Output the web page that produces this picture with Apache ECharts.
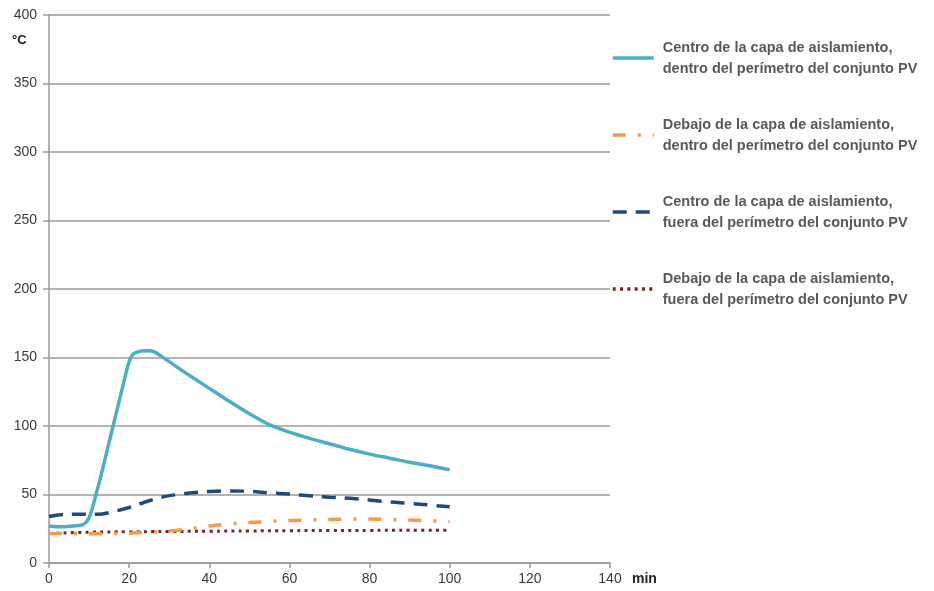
<!DOCTYPE html>
<html>
<head>
<meta charset="utf-8">
<script src="https://cdn.jsdelivr.net/npm/echarts@6/dist/echarts.min.js"></script>
<style>
  html, body { margin: 0; padding: 0; background: #ffffff; }
  #chart { width: 934px; height: 591px; }
</style>
</head>
<body>
<div id="chart"></div>
<script>
// Temperature (°C) over time (min) at four measurement points
const seriesNames = [
  'Centro de la capa de aislamiento,\ndentro del perímetro del conjunto PV',
  'Debajo de la capa de aislamiento,\ndentro del perímetro del conjunto PV',
  'Centro de la capa de aislamiento,\nfuera del perímetro del conjunto PV',
  'Debajo de la capa de aislamiento,\nfuera del perímetro del conjunto PV'
];

const centroDentroT = [0, 2, 4, 6, 8, 9, 10, 11, 12, 13, 14, 15, 16, 17, 18, 19, 20, 21, 22, 23, 25, 26, 27, 28, 30, 35, 40, 45, 50, 55, 60, 65, 70, 75, 80, 85, 90, 95, 100];
const centroDentroV = [27, 26.5, 26.5, 27, 27.5, 29, 33, 42, 53, 64, 76, 88, 100, 112, 124, 136, 147, 152.5, 154, 154.8, 155, 154.5, 153, 151, 147, 137, 127.5, 118, 109, 101, 95.5, 91, 87, 83, 79.5, 76.5, 73.5, 71, 68];

const debajoDentroT = [0, 5, 10, 15, 20, 25, 30, 35, 40, 45, 50, 55, 60, 65, 70, 75, 80, 85, 90, 95, 100];
const debajoDentroV = [21.5, 21.5, 21.3, 21.5, 21.8, 22.5, 23.3, 25, 27, 28.5, 29.5, 30.3, 31, 31.4, 31.8, 32.1, 32.2, 31.8, 31.3, 30.8, 30.3];

const centroFueraT = [0, 4, 8, 12, 16, 20, 24, 28, 32, 36, 40, 45, 50, 55, 60, 65, 70, 75, 80, 85, 90, 95, 100];
const centroFueraV = [34, 35.5, 35.5, 35.5, 37.5, 40.5, 44.5, 48, 50, 51.3, 52.2, 52.6, 52.3, 51.2, 50.3, 49.1, 48, 47.2, 46, 44.6, 43.5, 42.3, 41];

const debajoFueraT = [0, 10, 20, 30, 40, 50, 60, 70, 80, 90, 100];
const debajoFueraV = [21.5, 22.5, 22.8, 23, 23.2, 23.4, 23.6, 23.7, 23.8, 23.9, 24];

const xTicks = { min: 0, max: 140, interval: 20 };
const yTicks = { min: 0, max: 400, interval: 50 };

function pairs(t, v) { return t.map((x, i) => [x, v[i]]); }

const chart = echarts.init(document.getElementById('chart'), null, { renderer: 'canvas' });

const axisGray = '#9a9a9a';
const labelStyle = { color: '#3a3a3a', fontSize: 14, fontFamily: 'Liberation Sans, Arial, sans-serif' };

const lineBase = { type: 'line', showSymbol: false, symbol: 'none' };

chart.setOption({
  animation: false,
  backgroundColor: '#ffffff',
  grid: { left: 49, right: 324, top: 15, bottom: 28, containLabel: false },
  xAxis: {
    type: 'value', min: xTicks.min, max: xTicks.max, interval: xTicks.interval,
    axisLine: { show: true, lineStyle: { color: axisGray, width: 1.5 } },
    axisTick: { show: true, length: 5, lineStyle: { color: axisGray, width: 1.5 } },
    axisLabel: Object.assign({ margin: 9 }, labelStyle),
    splitLine: { show: false }
  },
  yAxis: {
    type: 'value', min: yTicks.min, max: yTicks.max, interval: yTicks.interval,
    axisLine: { show: true, lineStyle: { color: axisGray, width: 1.5 } },
    axisTick: { show: true, length: 6, lineStyle: { color: axisGray, width: 1.5 } },
    axisLabel: Object.assign({ margin: 12 }, labelStyle),
    splitLine: { show: true, lineStyle: { color: axisGray, width: 1.5 } }
  },
  legend: {
    orient: 'vertical',
    left: 611, top: 37,
    padding: 0,
    itemWidth: 41, itemHeight: 14,
    itemGap: 35,
    selectedMode: false,
    itemStyle: { opacity: 0 },
    lineStyle: { width: 3.5 },
    textStyle: {
      color: '#595959', fontSize: 14.5, fontWeight: 'bold',
      fontFamily: 'Liberation Sans, Arial, sans-serif',
      lineHeight: 21, padding: [0, 0, 0, 4]
    },
    data: seriesNames
  },
  graphic: [
    { type: 'text', left: 12, top: 34, style: { text: '°C', fill: '#222', font: 'bold 13px Liberation Sans, Arial, sans-serif' } },
    { type: 'text', left: 632, top: 572, style: { text: 'min', fill: '#222', font: 'bold 14px Liberation Sans, Arial, sans-serif' } }
  ],
  series: [
    Object.assign({}, lineBase, {
      name: seriesNames[0], smooth: 0.35, z: 5,
      data: pairs(centroDentroT, centroDentroV),
      lineStyle: { color: '#4aaec9', width: 3.5, type: 'solid' },
      itemStyle: { color: '#4aaec9' }
    }),
    Object.assign({}, lineBase, {
      name: seriesNames[1], smooth: 0.4, z: 3,
      data: pairs(debajoDentroT, debajoDentroV),
      lineStyle: { color: '#f59a45', width: 3.5, type: [13, 12, 3, 12] },
      itemStyle: { color: '#f59a45' }
    }),
    Object.assign({}, lineBase, {
      name: seriesNames[2], smooth: 0.4, z: 4,
      data: pairs(centroFueraT, centroFueraV),
      lineStyle: { color: '#1f4a7a', width: 3.5, type: [14, 9] },
      itemStyle: { color: '#1f4a7a' }
    }),
    Object.assign({}, lineBase, {
      name: seriesNames[3], smooth: 0.4, z: 2,
      data: pairs(debajoFueraT, debajoFueraV),
      lineStyle: { color: '#7a2226', width: 3, type: [3, 4.3] },
      itemStyle: { color: '#7a2226' }
    })
  ]
});
</script>
</body>
</html>
